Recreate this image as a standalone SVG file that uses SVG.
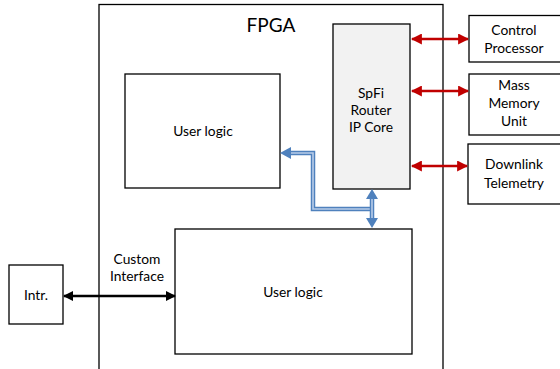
<svg xmlns="http://www.w3.org/2000/svg" width="560" height="369" viewBox="0 0 560 369">
<style>
.box{fill:#fff;stroke:#000;stroke-width:1.3}
.core{fill:#f2f2f2;stroke:#000;stroke-width:1.3}
text{font-family:Lato,"Liberation Sans",sans-serif;font-size:13.8px;fill:#000;text-anchor:middle}
.red{stroke:#c00000;stroke-width:2.5;fill:none}
.blk{stroke:#000;stroke-width:2.5;fill:none}
.bo{stroke:#4f81bd;stroke-width:4.5;fill:none}
.bi{stroke:#b9cde9;stroke-width:1.6;fill:none}
</style>
<defs>
<marker id="rh" viewBox="0 0 10 10" refX="9" refY="5" markerWidth="4.4" markerHeight="4.4" orient="auto-start-reverse" markerUnits="strokeWidth"><path d="M0,0L10,5L0,10z" fill="#c00000"/></marker>
<marker id="kh" viewBox="0 0 10 10" refX="9" refY="5" markerWidth="4" markerHeight="4" orient="auto-start-reverse" markerUnits="strokeWidth"><path d="M0,0L10,5L0,10z" fill="#000"/></marker>
</defs>
<g id="fpga"><rect class="box" x="99" y="4.5" width="344" height="366"/><text x="271" y="32" style="font-size:19px">FPGA</text></g>
<g id="spfi"><rect class="core" x="333" y="24" width="77" height="165"/><text x="371" y="98">SpFi</text><text x="371" y="115">Router</text><text x="371" y="132">IP Core</text></g>
<g id="userlogic1"><rect class="box" x="125" y="74" width="155" height="114"/><text x="203" y="136">User logic</text></g>
<g id="userlogic2"><rect class="box" x="175" y="229" width="237" height="125"/><text x="293" y="297">User logic</text></g>
<g id="intr"><rect class="box" x="9" y="265" width="54" height="59"/><text x="36" y="300">Intr.</text></g>
<g id="cp"><rect class="box" x="469" y="15.5" width="100" height="46.5"/><text x="514" y="35">Control</text><text x="514" y="53">Processor</text></g>
<g id="mmu"><rect class="box" x="469" y="74" width="100" height="61"/><text x="514" y="90">Mass</text><text x="514" y="108">Memory</text><text x="514" y="126">Unit</text></g>
<g id="dlt"><rect class="box" x="468" y="144" width="100" height="60"/><text x="514" y="169">Downlink</text><text x="514" y="188">Telemetry</text></g>
<text x="137" y="264">Custom</text><text x="137" y="281">Interface</text>
<g id="connectors">
<line class="red" x1="412" y1="39" x2="468" y2="39" marker-start="url(#rh)" marker-end="url(#rh)"/>
<line class="red" x1="412" y1="91" x2="468" y2="91" marker-start="url(#rh)" marker-end="url(#rh)"/>
<line class="red" x1="412" y1="166" x2="467" y2="166" marker-start="url(#rh)" marker-end="url(#rh)"/>
<line class="blk" x1="64" y1="296" x2="175" y2="296" marker-start="url(#kh)" marker-end="url(#kh)"/>
<path class="bo" d="M370,209H313V153H289"/>
<path class="bi" d="M370,209H313V153H289"/>
<path d="M280,153L291,147V159z" fill="#4f81bd"/>
<line class="bo" x1="372" y1="198" x2="372" y2="220"/>
<line class="bi" x1="372" y1="198" x2="372" y2="220"/>
<path d="M372,189L366,199H378z" fill="#4f81bd"/>
<path d="M372,228L366,218H378z" fill="#4f81bd"/>
</g>
</svg>
